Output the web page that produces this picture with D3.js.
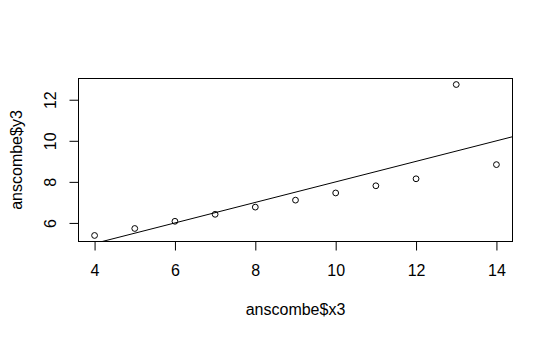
<!DOCTYPE html>
<html><head><meta charset="utf-8">
<script src="https://cdn.jsdelivr.net/npm/d3@7"></script>
<style>body{margin:0;background:#fff}svg{display:block}text{font-family:"Liberation Sans",Arial,sans-serif}</style>
</head><body>
<svg id="c" width="553" height="339"></svg>
<script>
const x3 = [10, 8, 13, 9, 11, 14, 6, 4, 12, 7, 5];
const y3 = [7.46, 6.77, 12.74, 7.11, 7.81, 8.84, 6.08, 5.39, 8.15, 6.42, 5.73];
const xTicks = [4, 6, 8, 10, 12, 14];
const yTicks = [6, 8, 10, 12];
const fit = {intercept: 3.0025, slope: 0.4997};

const svg = d3.select("#c");
const L = 78.5, R = 512.5, T = 78.5, B = 241.5;
const FS = 16;
const ext = (a) => { const [lo, hi] = d3.extent(a); const d = (hi - lo) * 0.04; return [lo - d, hi + d]; };
const x = d3.scaleLinear().domain(ext(x3)).range([L, R]);
const y = d3.scaleLinear().domain(ext(y3)).range([B, T]);

svg.append("clipPath").attr("id", "clip").append("rect")
  .attr("x", L).attr("y", T).attr("width", R - L).attr("height", B - T);

// regression line
const xd = x.domain();
svg.append("line").attr("clip-path", "url(#clip)")
  .attr("x1", x(xd[0])).attr("y1", y(fit.intercept + fit.slope * xd[0]))
  .attr("x2", x(xd[1])).attr("y2", y(fit.intercept + fit.slope * xd[1]))
  .attr("stroke", "#000").attr("stroke-width", 1);

// points
svg.selectAll("circle.p").data(x3.map((v, i) => [v, y3[i]])).join("circle")
  .attr("cx", d => x(d[0])).attr("cy", d => y(d[1])).attr("r", 2.9)
  .attr("fill", "none").attr("stroke", "#000").attr("stroke-width", 1);

// box
svg.append("rect").attr("x", L).attr("y", T).attr("width", R - L).attr("height", B - T)
  .attr("fill", "none").attr("stroke", "#000").attr("stroke-width", 1);

// x axis
const xa = svg.append("g").attr("transform", `translate(0,${B})`)
  .call(d3.axisBottom(x).tickValues(xTicks).tickSize(9).tickPadding(14).tickFormat(d3.format("d")));
xa.select(".domain").attr("d", `M${x(4)},0H${x(14)}`);
xa.selectAll("text").attr("font-size", FS).attr("fill", "#000").attr("font-family", "Liberation Sans, Arial, sans-serif");

// y axis
const ya = svg.append("g").attr("transform", `translate(${L},0)`)
  .call(d3.axisLeft(y).tickValues(yTicks).tickSize(9).tickFormat(d3.format("d")));
ya.select(".domain").attr("d", `M0,${y(6)}V${y(12)}`);
ya.selectAll(".tick text").attr("font-size", FS).attr("fill", "#000")
  .attr("font-family", "Liberation Sans, Arial, sans-serif")
  .attr("transform", "rotate(-90)").attr("x", 0).attr("y", -23).attr("dy", 0)
  .attr("text-anchor", "middle");

// titles
svg.append("text").attr("x", (L + R) / 2).attr("y", 315).attr("text-anchor", "middle")
  .attr("font-size", FS).text("anscombe$x3");
svg.append("text").attr("transform", `translate(21.5,${(T + B) / 2}) rotate(-90)`)
  .attr("text-anchor", "middle").attr("font-size", FS).text("anscombe$y3");
</script>
</body></html>
